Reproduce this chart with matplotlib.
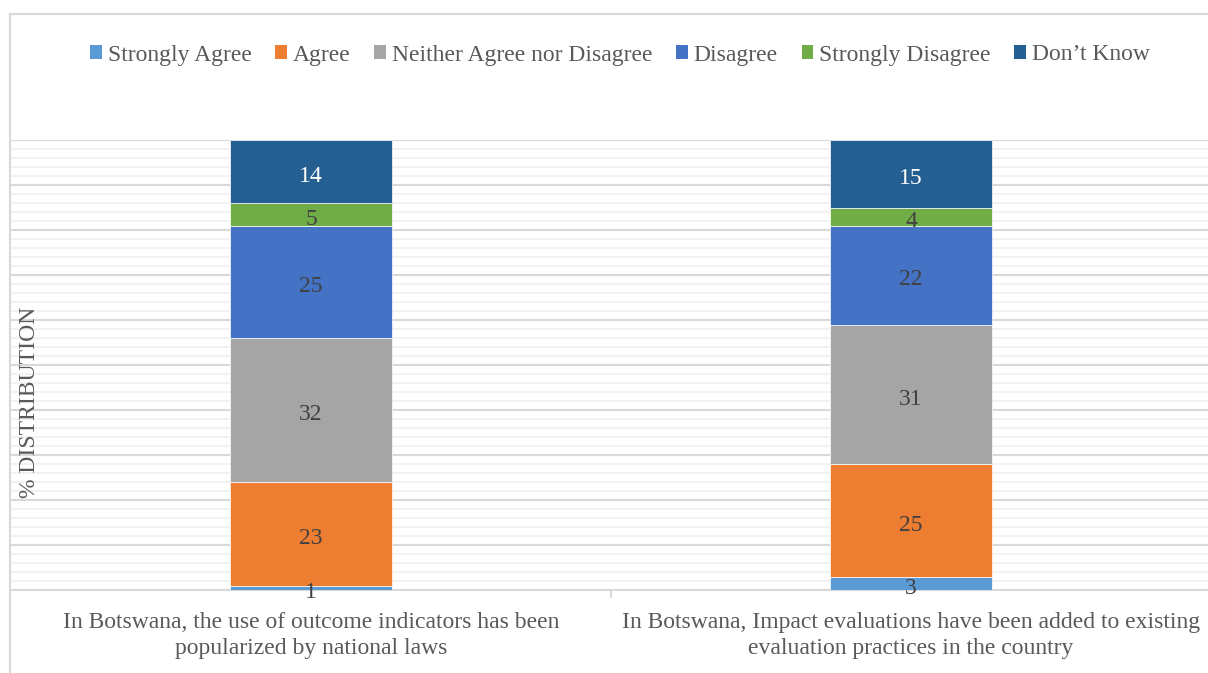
import matplotlib
matplotlib.use("Agg")
import matplotlib.pyplot as plt
from matplotlib.patches import Patch
from matplotlib.lines import Line2D
from matplotlib.transforms import offset_copy
import numpy as np

categories = [
    "In Botswana, the use of outcome indicators has been\npopularized by national laws",
    "In Botswana, Impact evaluations have been added to existing\nevaluation practices in the country",
]
series_names = ["Strongly Agree", "Agree", "Neither Agree nor Disagree",
                "Disagree", "Strongly Disagree", "Don\u2019t Know"]
series_values = [
    [1, 3],
    [23, 25],
    [32, 31],
    [25, 22],
    [5, 4],
    [14, 15],
]
colors = ["#5B9BD5", "#ED7D31", "#A5A5A5", "#4472C4", "#70AD47", "#255E91"]
label_colors = ["#404040", "#404040", "#404040", "#404040", "#404040", "#FFFFFF"]

plt.rcParams["font.family"] = ["Liberation Serif", "DejaVu Serif"]
text_gray = "#595959"
fs = 17

W, H = 1208, 673
fig = plt.figure(figsize=(W / 100, H / 100), dpi=100)

# plot area in pixel coordinates
left, right, top, bottom = 11, 1211, 140, 590
ax = fig.add_axes([left / W, (H - bottom) / H, (right - left) / W, (bottom - top) / H])

# data labels sit slightly below the geometric centre of each segment
label_tr = offset_copy(ax.transData, fig=fig, x=0, y=-3.5, units="points")

x = np.arange(len(categories))
width = 0.27
base = np.zeros(len(categories))
for vals, name, col, lc in zip(series_values, series_names, colors, label_colors):
    vals = np.array(vals, dtype=float)
    ax.bar(x, vals, width, bottom=base, color=col, label=name, zorder=3,
           edgecolor="white", linewidth=0.5)
    for xi, b, v in zip(x, base, vals):
        ax.text(xi, b + v / 2, f"{v:g}", ha="center", va="center",
                fontsize=fs, color=lc, zorder=4, transform=label_tr)
    base += vals

ax.set_xlim(-0.5, 1.5)
ax.set_ylim(0, 100)
ax.set_yticks(np.arange(0, 101, 10))
ax.set_yticks(np.arange(0, 101, 2), minor=True)
ax.yaxis.grid(True, which="major", color="#D9D9D9", linewidth=1.5, zorder=1)
ax.yaxis.grid(True, which="minor", color="#F2F2F2", linewidth=1.5, zorder=0)
ax.tick_params(axis="y", which="both", length=0, labelleft=False)
ax.set_xticks(x)
ax.set_xticklabels(categories, fontsize=fs, color=text_gray, linespacing=1.32)
ax.set_xticks([0.5], minor=True)
ax.tick_params(axis="x", which="major", length=0, pad=16)
ax.tick_params(axis="x", which="minor", length=6, color="#D9D9D9", width=1.5)
for s in ["top", "right", "left"]:
    ax.spines[s].set_visible(False)
ax.spines["bottom"].set_color("#D9D9D9")
ax.spines["bottom"].set_linewidth(1.5)
ax.set_axisbelow(True)

fig.text(30 / W, 1 - 402 / H, "% DISTRIBUTION", rotation=90, ha="center",
         va="center", fontsize=fs, color=text_gray)

# chart frame (left and top edges)
fig.add_artist(Line2D([10 / W, 10 / W], [0, 1 - 14 / H], transform=fig.transFigure,
                      color="#D9D9D9", linewidth=1.5))
fig.add_artist(Line2D([10 / W, 1], [1 - 14 / H, 1 - 14 / H], transform=fig.transFigure,
                      color="#D9D9D9", linewidth=1.5))

handles = [Patch(facecolor=c, edgecolor="none") for c in colors]
leg = fig.legend(handles, series_names, loc="center", bbox_to_anchor=(620 / W, 1 - 55 / H),
                 ncol=6, frameon=False, fontsize=fs, handlelength=0.5, handleheight=0.5,
                 handletextpad=0.25, columnspacing=1.0)
for t in leg.get_texts():
    t.set_color(text_gray)

fig.savefig("out.png", dpi=100)
